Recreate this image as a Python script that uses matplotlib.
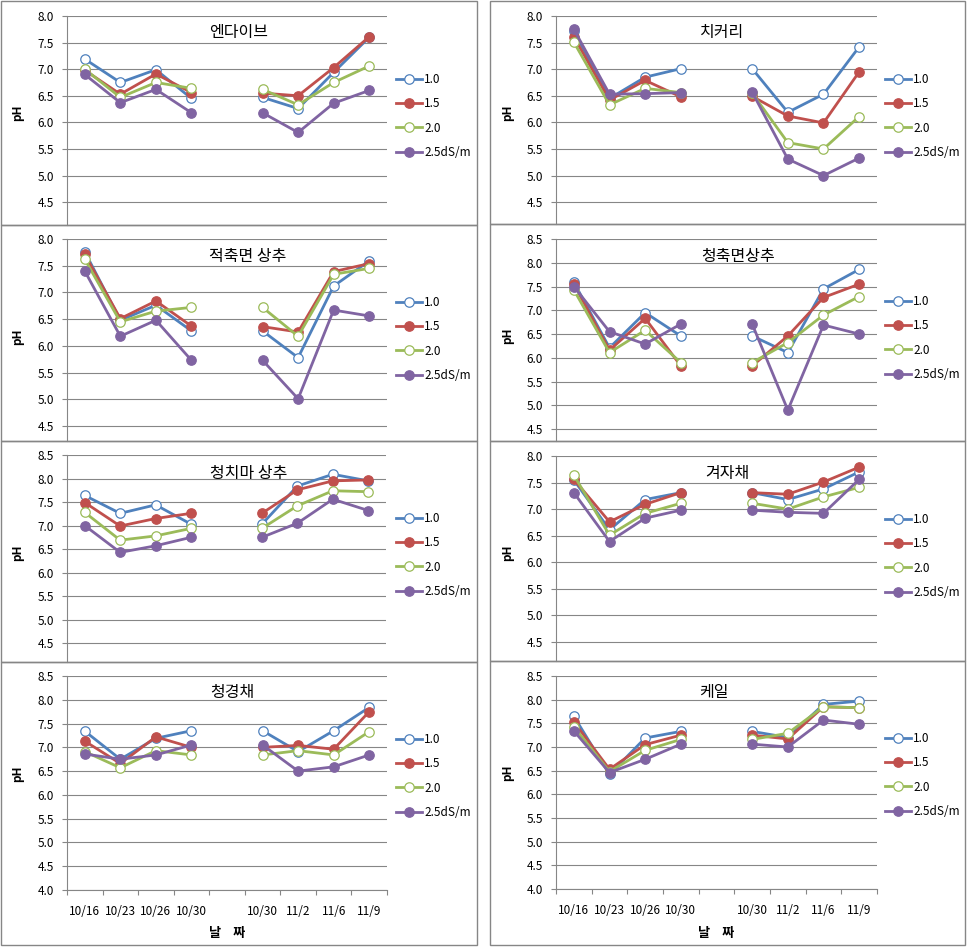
import numpy as np
import matplotlib.pyplot as plt
from matplotlib.patches import Rectangle

plt.rcParams['font.family'] = ['Noto Sans CJK KR', 'DejaVu Sans']

W, H = 969, 948

# ===== data =====
dates = ['10/16', '10/23', '10/26', '10/30', '', '10/30', '11/2', '11/6', '11/9']
series_names = ['1.0', '1.5', '2.0', '2.5dS/m']
crop_names = ['엔다이브', '치커리', '적축면 상추', '청축면상추',
              '청치마 상추', '겨자채', '청경채', '케일']

# pH per EC level (1.0, 1.5, 2.0, 2.5), 8 dates (gap slot added when plotting)
endive = [[7.19, 6.75, 6.99, 6.45, 6.47, 6.26, 6.94, 7.60],
          [6.98, 6.53, 6.91, 6.56, 6.55, 6.50, 7.03, 7.61],
          [7.00, 6.47, 6.75, 6.64, 6.62, 6.33, 6.75, 7.06],
          [6.90, 6.37, 6.62, 6.18, 6.18, 5.81, 6.36, 6.60]]
chicory = [[7.72, 6.45, 6.85, 7.01, 7.01, 6.19, 6.53, 7.42],
           [7.61, 6.42, 6.79, 6.48, 6.49, 6.12, 5.99, 6.95],
           [7.51, 6.33, 6.64, 6.56, 6.55, 5.62, 5.50, 6.11],
           [7.75, 6.53, 6.54, 6.56, 6.57, 5.31, 5.00, 5.33]]
red_lettuce = [[7.76, 6.48, 6.76, 6.28, 6.28, 5.78, 7.12, 7.59],
               [7.71, 6.51, 6.84, 6.37, 6.36, 6.26, 7.39, 7.54],
               [7.62, 6.45, 6.65, 6.72, 6.72, 6.18, 7.34, 7.45],
               [7.40, 6.18, 6.48, 5.73, 5.73, 5.01, 6.67, 6.56]]
green_lettuce = [[7.59, 6.21, 6.95, 6.46, 6.46, 6.11, 7.45, 7.86],
                 [7.55, 6.16, 6.83, 5.83, 5.83, 6.46, 7.27, 7.55],
                 [7.43, 6.11, 6.58, 5.90, 5.90, 6.32, 6.90, 7.29],
                 [7.50, 6.55, 6.29, 6.71, 6.71, 4.90, 6.69, 6.50]]
leaf_lettuce = [[7.64, 7.26, 7.44, 7.03, 7.03, 7.84, 8.09, 7.95],
                [7.49, 6.99, 7.15, 7.26, 7.26, 7.76, 7.95, 7.97],
                [7.28, 6.69, 6.78, 6.94, 6.94, 7.42, 7.74, 7.72],
                [7.00, 6.43, 6.57, 6.75, 6.75, 7.05, 7.56, 7.32]]
mustard = [[7.55, 6.61, 7.18, 7.31, 7.31, 7.18, 7.38, 7.70],
           [7.56, 6.76, 7.09, 7.31, 7.31, 7.28, 7.51, 7.79],
           [7.64, 6.51, 6.92, 7.11, 7.11, 7.00, 7.23, 7.41],
           [7.31, 6.39, 6.83, 6.98, 6.98, 6.94, 6.92, 7.56]]
pak_choi = [[7.34, 6.75, 7.19, 7.35, 7.35, 6.91, 7.35, 7.84],
            [7.13, 6.66, 7.22, 7.00, 7.00, 7.04, 6.96, 7.75],
            [6.91, 6.57, 6.93, 6.84, 6.84, 6.93, 6.84, 7.33],
            [6.86, 6.75, 6.84, 7.05, 7.05, 6.50, 6.59, 6.84]]
kale = [[7.65, 6.42, 7.19, 7.33, 7.33, 7.20, 7.90, 7.97],
        [7.53, 6.53, 7.05, 7.25, 7.25, 7.17, 7.85, 7.83],
        [7.43, 6.48, 6.93, 7.16, 7.16, 7.29, 7.85, 7.83],
        [7.34, 6.46, 6.74, 7.06, 7.06, 7.00, 7.57, 7.48]]

crop_data = [endive, chicory, red_lettuce, green_lettuce,
             leaf_lettuce, mustard, pak_choi, kale]

# ===== layout (pixels, y from top) =====
# box: panel border, ax: plot area, ylim, title centre, legend centre
panels = [
    dict(box=(1, 1, 477, 225), ax=(67, 16, 387, 225), ylim=(4.07, 8.0), title=(239, 33), leg=(396, 116)),
    dict(box=(490, 1, 965, 224), ax=(556, 16, 877, 224), ylim=(4.09, 8.0), title=(722, 33), leg=(885, 116)),
    dict(box=(1, 225, 477, 441), ax=(67, 239, 387, 441), ylim=(4.22, 8.0), title=(248, 257), leg=(396, 339)),
    dict(box=(490, 224, 965, 441), ax=(556, 239, 877, 441), ylim=(4.25, 8.5), title=(738, 257), leg=(885, 338)),
    dict(box=(1, 441, 477, 662), ax=(67, 455, 386, 662), ylim=(4.10, 8.5), title=(249, 473), leg=(396, 555)),
    dict(box=(490, 441, 965, 661), ax=(556, 456, 877, 661), ylim=(4.14, 8.0), title=(727, 473), leg=(885, 556)),
    dict(box=(1, 662, 477, 945), ax=(67, 676, 387, 890), ylim=(4.0, 8.5), title=(232, 693), leg=(396, 776)),
    dict(box=(490, 661, 965, 945), ax=(556, 676, 877, 889), ylim=(4.0, 8.5), title=(714, 693), leg=(885, 775)),
]

colors = ['#4F81BD', '#C0504D', '#9BBB59', '#8064A2']
filled = [False, True, False, True]
grid_c = '#868686'


def fx(x):
    return x / W


def fy(y):
    return 1 - y / H


fig = plt.figure(figsize=(W / 100, H / 100), dpi=100)

x = np.arange(len(dates))

for i, p in enumerate(panels):
    bx0, by0, bx1, by1 = p['box']
    fig.patches.append(Rectangle((fx(bx0), fy(by1)), fx(bx1 - bx0), (by1 - by0) / H,
                                 transform=fig.transFigure, fill=False,
                                 edgecolor=grid_c, lw=1.0, zorder=0))

    ax0, ay0, ax1, ay1 = p['ax']
    ax = fig.add_axes([fx(ax0), fy(ay1), fx(ax1 - ax0), (ay1 - ay0) / H])
    lo, hi = p['ylim']
    ax.set_ylim(lo, hi)
    ax.set_xlim(-0.5, len(dates) - 0.5)

    handles = []
    for k, vals in enumerate(crop_data[i]):
        y = np.insert(np.array(vals, dtype=float), 4, np.nan)
        c = colors[k]
        line, = ax.plot(x, y, color=c, lw=2.0, marker='o', ms=6.8,
                        markerfacecolor=c if filled[k] else 'white',
                        markeredgecolor=c, markeredgewidth=0.9,
                        clip_on=False, zorder=3 + k)
        handles.append(line)

    yt = np.arange(4.0, hi + 0.01, 0.5)
    yt = yt[yt >= lo - 1e-6]
    ax.set_yticks(yt)
    ax.set_yticklabels([f'{v:.1f}' for v in yt], fontsize=8.5)
    ax.yaxis.grid(True, color=grid_c, lw=0.8)
    ax.set_axisbelow(True)
    ax.tick_params(axis='y', direction='out', length=3.6, width=0.8,
                   color=grid_c, pad=6)

    for s in ['top', 'right']:
        ax.spines[s].set_visible(False)
    ax.spines['left'].set_color(grid_c)
    ax.spines['left'].set_linewidth(0.8)

    if i >= 6:
        ax.spines['bottom'].set_color(grid_c)
        ax.spines['bottom'].set_linewidth(0.8)
        ax.set_xticks(np.arange(-0.5, len(dates)))
        ax.set_xticklabels([])
        ax.set_xticks(x, minor=True)
        ax.set_xticklabels(dates, minor=True, fontsize=8.5)
        ax.tick_params(axis='x', which='major', direction='out', length=3.6,
                       width=0.8, color=grid_c)
        ax.tick_params(axis='x', which='minor', length=0, pad=11)
        fig.text(fx((ax0 + ax1) / 2), fy(933), '날    짜', ha='center', va='center',
                 fontsize=9.5, fontweight='bold')
    else:
        ax.spines['bottom'].set_visible(False)
        ax.set_xticks([])

    # y label
    lx = 18 if ax0 < 400 else 508
    fig.text(fx(lx), fy(by0 + 112), 'pH', rotation=90, ha='center', va='center',
             fontsize=8.5, fontweight='bold')

    tx, ty = p['title']
    fig.text(fx(tx), fy(ty), crop_names[i], ha='center', va='center', fontsize=11.5)

    lgx, lgy = p['leg']
    ax.legend(handles, series_names, loc='center left',
              bbox_to_anchor=(fx(lgx), fy(lgy)), bbox_transform=fig.transFigure,
              frameon=False, fontsize=8.5, handlelength=2.2, handletextpad=0.2,
              labelspacing=0.94, borderpad=0, borderaxespad=0)

fig.savefig('out.png', dpi=100)
